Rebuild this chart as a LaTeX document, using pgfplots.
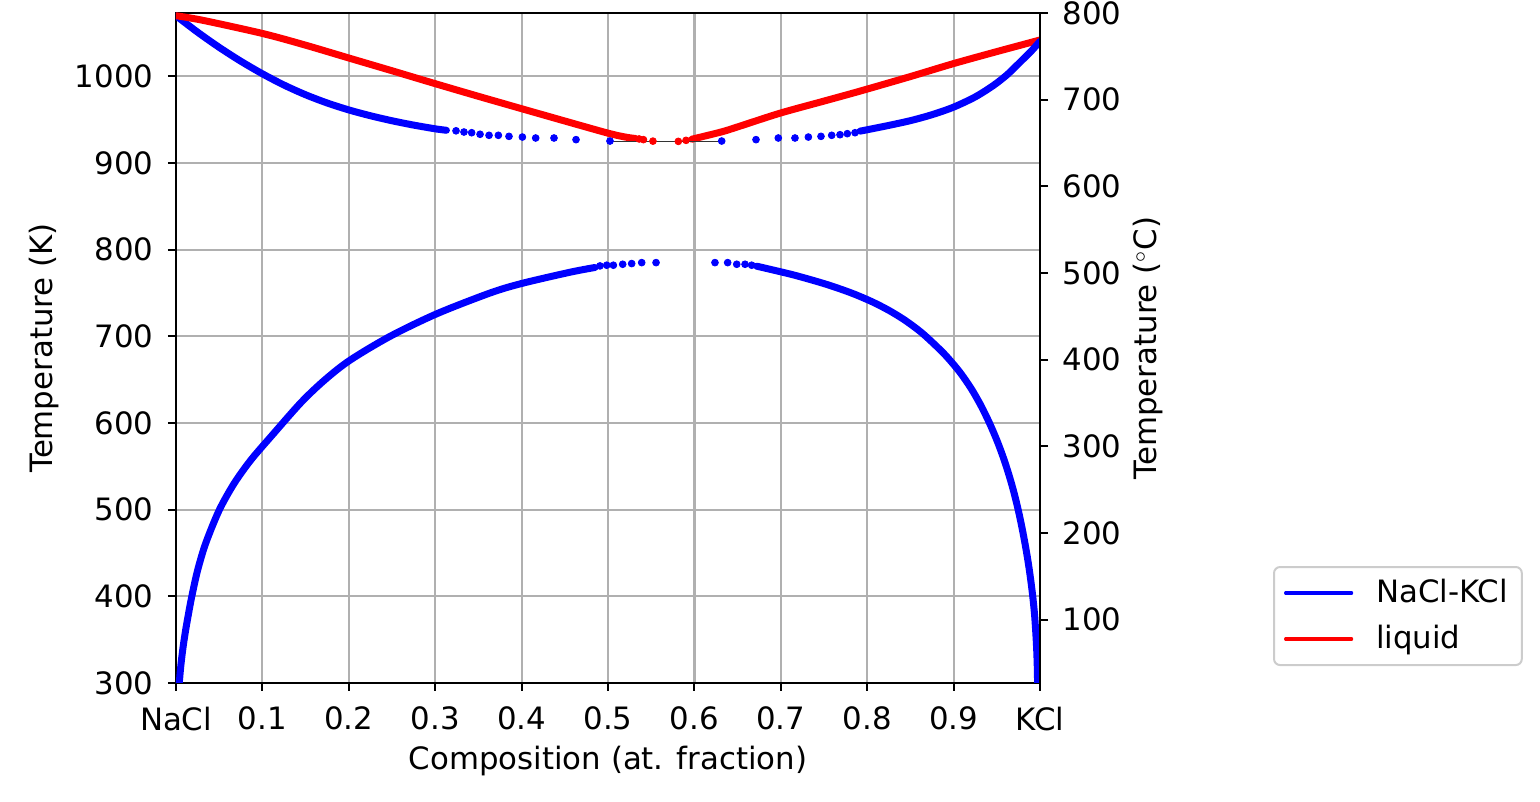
\documentclass[border=0pt]{standalone}
\usepackage{fontspec}
\setmainfont{DejaVu Sans}
\usepackage{pgfplots}
\pgfplotsset{compat=1.18}
\definecolor{gridgray}{HTML}{B0B0B0}
\definecolor{legedge}{HTML}{CCCCCC}
\begin{document}
\fontsize{15.4}{18.5}\selectfont
\begin{tikzpicture}
\begin{axis}[
  at={(0,0)}, anchor=south west,
  scale only axis, width=432pt, height=335pt,
  xmin=0, xmax=1, ymin=300, ymax=1073.15,
  xtick={0,0.1,0.2,0.3,0.4,0.5,0.6,0.7,0.8,0.9,1},
  xticklabels={NaCl,0.1,0.2,0.3,0.4,0.5,0.6,0.7,0.8,0.9,KCl},
  ytick={300,400,500,600,700,800,900,1000},
  xtick pos=lower, ytick pos=left,
  grid=major, grid style={gridgray, line width=1.1pt},
  tick align=outside, major tick length=4pt,
  tick style={black, line width=1pt},
  axis line style={line width=1pt},
  /pgf/number format/assume math mode=true,
  /pgf/number format/set thousands separator={},
  xticklabel style={yshift=-2.5pt},
  yticklabel style={xshift=-2pt},
  xlabel={Composition (at. fraction)},
  ylabel={Temperature (K)},
  xlabel style={at={(axis description cs:0.5,-0.1164)}, anchor=center},
  ylabel style={at={(axis description cs:-0.1528,0.5)}, anchor=center},
  legend style={at={(axis description cs:1.2697,0.1746)}, anchor=north west,
    draw=legedge, line width=1pt, rounded corners=3pt,
    inner xsep=5pt, inner ysep=4pt, row sep=5pt,
    cells={anchor=west}, font=\fontsize{15.4}{18.5}\selectfont},
  legend image code/.code={\draw[#1, line width=1.6pt] (0pt,0pt) -- (33pt,0pt); \path (41.5pt,0pt);},
]
% solidus, NaCl side (dense)
\addplot[blue, line width=3.5pt, line cap=round, smooth] coordinates {
(0,1070)(0.025,1051)(0.05,1033.5)(0.075,1017.5)(0.1,1003)(0.125,990)(0.15,978.8)
(0.175,969.3)(0.2,961.3)(0.225,954.6)(0.25,948.8)(0.275,943.8)(0.3,939.5)(0.313,937.8)};
\addlegendentry{NaCl-KCl}
% liquidus, NaCl side (dense)
\addplot[red, line width=3.5pt, line cap=round, smooth] coordinates {
(0,1070)(0.0316,1064.6)(0.101,1049.3)(0.15,1036)(0.2014,1020.8)(0.25,1006.5)(0.3,991.6)(0.35,977)
(0.4,962.7)(0.45,948.5)(0.5,934.5)(0.52,930)(0.532,928.3)};
\addlegendentry{liquid}
% liquidus, sparse near eutectic
\addplot[red, only marks, mark=*, mark size=1.7pt, forget plot] coordinates {
(0.536,927.8)(0.541,927)(0.552,925.3)(0.5814,925)(0.5903,926.2)};
% liquidus, KCl side (dense)
\addplot[red, line width=3.5pt, line cap=round, smooth, forget plot] coordinates {
(0.597,927.5)(0.6316,936)(0.65,941.7)(0.699,957.5)(0.75,971.5)(0.7917,983)(0.85,999.8)
(0.8997,1014.7)(0.95,1028.6)(1.0,1042)};
% eutectic line
\addplot[black!80, line width=0.7pt, forget plot] coordinates {(0.502,925.2)(0.630,925.2)};
% solidus sparse points
\addplot[blue, only marks, mark=*, mark size=1.7pt, forget plot] coordinates {
(0.3241,937.2)(0.3333,935.8)(0.3422,935)(0.3519,933.2)(0.3623,932)(0.3731,932)
(0.3854,930.8)(0.4009,930)(0.4163,928.9)(0.4375,928.9)(0.4630,927)(0.5023,925.4)
(0.6316,925.4)(0.6713,927)(0.6971,928.9)(0.7164,928.9)(0.7319,930)(0.7465,930.8)
(0.7589,932)(0.7685,932.7)(0.777,933.9)(0.7859,935)};
% solidus, KCl side (dense)
\addplot[blue, line width=3.5pt, line cap=round, smooth, forget plot] coordinates {
(0.7917,936.8)(0.82,942.4)(0.8495,948.8)(0.875,955.8)(0.8997,964.4)(0.925,976.3)(0.946,989.5)
(0.962,1002)(0.977,1016.5)(0.99,1029.3)(1.0,1040.5)};
% miscibility gap, left branch (dense)
\addplot[blue, line width=3.5pt, line cap=round, smooth, forget plot] coordinates {
(0.0037,296)(0.0038,300)(0.0056,320)(0.0080,340)(0.0110,360)(0.0145,380)(0.0183,400)
(0.0250,430)(0.0343,461)(0.0498,499)(0.0671,530)(0.0864,557)(0.1096,584)(0.145,624)
(0.1725,650)(0.2014,672.5)(0.2477,700)(0.3017,726)(0.3634,750)(0.4,761)(0.456,774)(0.485,779.5)};
% miscibility gap, sparse top
\addplot[blue, only marks, mark=*, mark size=1.7pt, forget plot] coordinates {
(0.4907,781.3)(0.4985,782.1)(0.5062,782.1)(0.517,783.2)(0.5274,784)(0.539,785.1)(0.5556,785.1)
(0.6238,785.1)(0.6385,785.1)(0.649,783.2)(0.6586,783.2)(0.6663,782.1)};
% miscibility gap, right branch (dense)
\addplot[blue, line width=3.5pt, line cap=round, smooth, forget plot] coordinates {
(0.672,781)(0.6935,776)(0.7181,770)(0.7529,760)(0.7818,750)(0.8055,740)(0.8251,730)
(0.8416,720)(0.8557,710)(0.8679,700)(0.8889,680)(0.9062,660)(0.9202,640)(0.9317,620)
(0.9415,600)(0.9501,580)(0.9576,560)(0.9641,540)(0.9698,520)(0.9747,500)(0.9790,480)
(0.9828,460)(0.9862,440)(0.9891,420)(0.9916,400)(0.9936,380)(0.9950,360)(0.9961,340)
(0.9968,320)(0.9972,300)(0.9972,296)};
\end{axis}
\begin{axis}[
  at={(0,0)}, anchor=south west,
  scale only axis, width=432pt, height=335pt,
  xmin=0, xmax=1, ymin=26.85, ymax=800,
  axis x line=none, axis y line*=right,
  ytick={100,200,300,400,500,600,700,800},
  tick align=outside, major tick length=4pt,
  tick style={black, line width=1pt},
  axis line style={line width=1pt},
  /pgf/number format/assume math mode=true,
  yticklabel style={xshift=2pt},
  ylabel={Temperature ($^\circ$C)},
  ylabel style={at={(axis description cs:1.125,0.5)}, anchor=center},
]
\addplot[draw=none, forget plot] coordinates {(0,100)(1,700)};
\end{axis}
\pgfresetboundingbox
\path[use as bounding box] (-88pt,-59.5pt) rectangle (682pt,341.5pt);
\end{tikzpicture}
\end{document}
